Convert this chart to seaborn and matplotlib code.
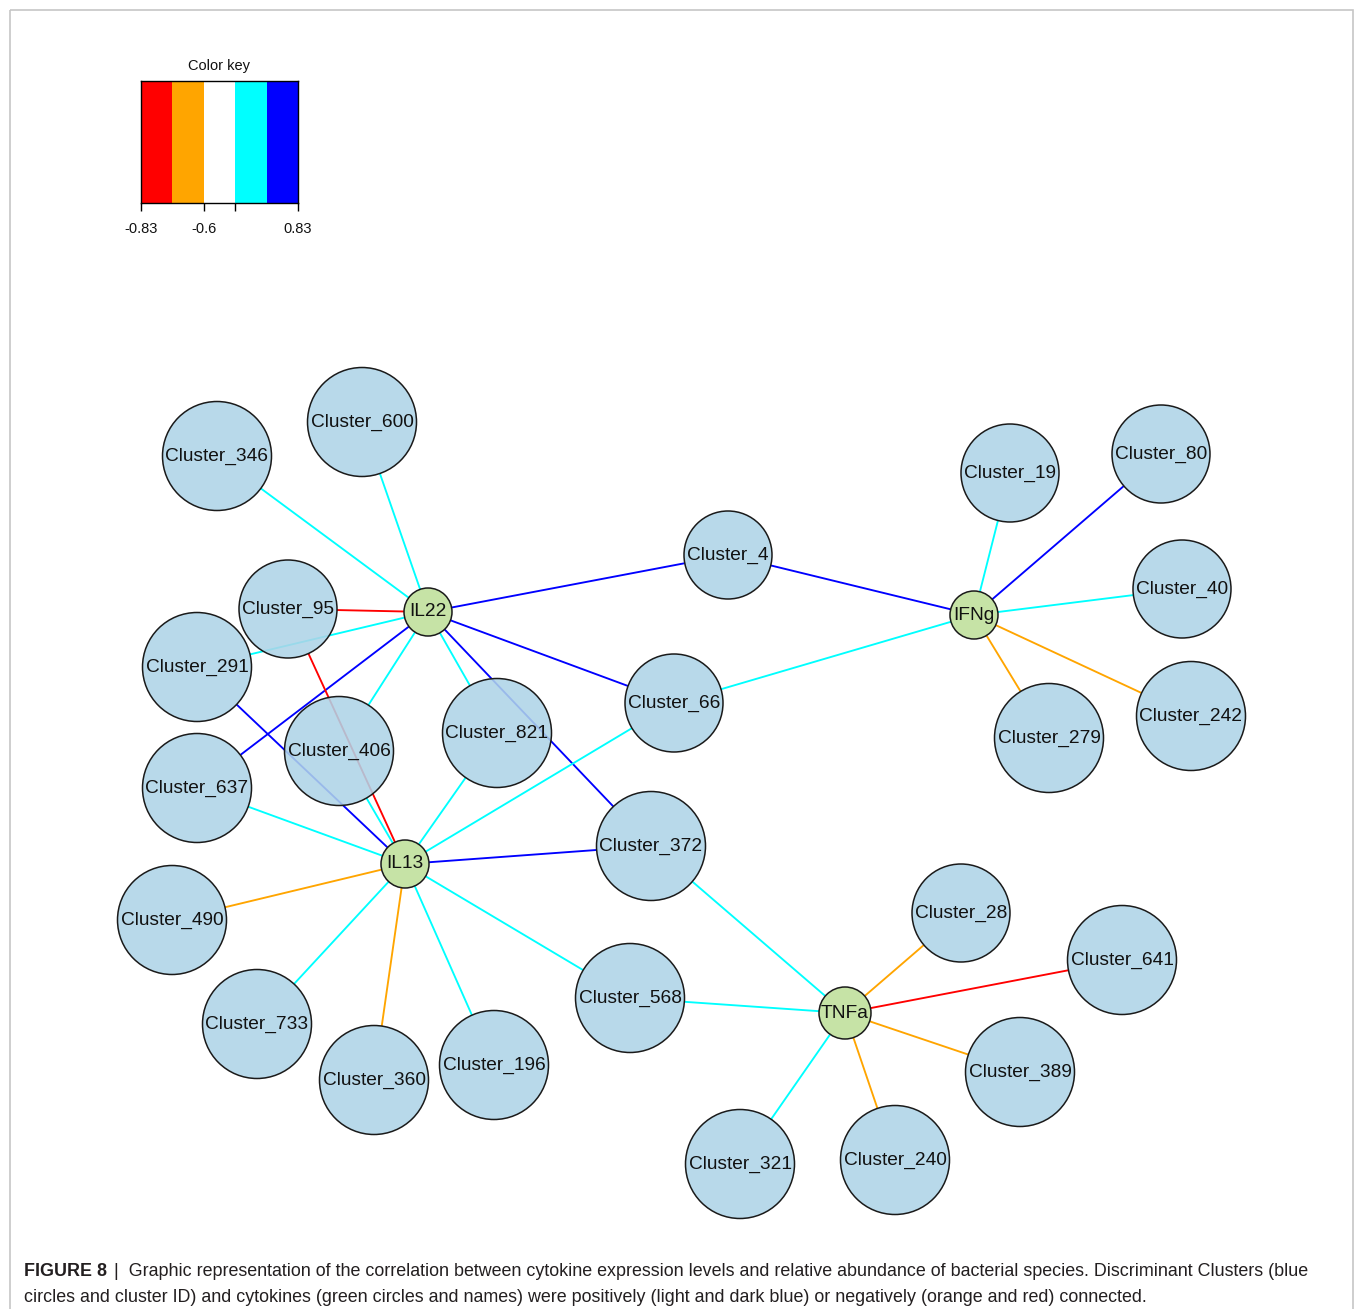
import numpy as np
import matplotlib
matplotlib.use("Agg")
import matplotlib.pyplot as plt
from matplotlib.patches import Circle, Rectangle
from matplotlib.colors import ListedColormap
import seaborn as sns

sns.set_theme(style="white")
plt.rcParams["font.family"] = ["Liberation Sans", "DejaVu Sans"]

# ---- network data ---------------------------------------------------------
cytokines = ["IL22", "IL13", "IFNg", "TNFa"]
clusters = ["Cluster_600", "Cluster_346", "Cluster_95", "Cluster_291", "Cluster_406",
            "Cluster_637", "Cluster_821", "Cluster_4", "Cluster_66", "Cluster_372",
            "Cluster_19", "Cluster_80", "Cluster_40", "Cluster_242", "Cluster_279",
            "Cluster_490", "Cluster_733", "Cluster_360", "Cluster_196", "Cluster_568",
            "Cluster_28", "Cluster_641", "Cluster_389", "Cluster_240", "Cluster_321"]

# correlation edges: source, target, Spearman rho
edge_source = (["IL22"] * 10 + ["IL13"] * 12 + ["IFNg"] * 7 + ["TNFa"] * 7)
edge_target = ["Cluster_346", "Cluster_600", "Cluster_95", "Cluster_291", "Cluster_637",
               "Cluster_406", "Cluster_821", "Cluster_4", "Cluster_66", "Cluster_372",
               "Cluster_95", "Cluster_291", "Cluster_406", "Cluster_637", "Cluster_490",
               "Cluster_733", "Cluster_360", "Cluster_196", "Cluster_568", "Cluster_372",
               "Cluster_821", "Cluster_66",
               "Cluster_4", "Cluster_66", "Cluster_19", "Cluster_80", "Cluster_40",
               "Cluster_242", "Cluster_279",
               "Cluster_372", "Cluster_568", "Cluster_28", "Cluster_641", "Cluster_389",
               "Cluster_240", "Cluster_321"]
edge_rho = [0.65, 0.65, -0.77, 0.65, 0.76, 0.65, 0.65, 0.76, 0.76, 0.76,
            -0.77, 0.76, 0.65, 0.65, -0.65, 0.65, -0.65, 0.65, 0.65, 0.76, 0.65, 0.65,
            0.76, 0.65, 0.65, 0.76, 0.65, -0.65, -0.65,
            0.65, 0.65, -0.65, -0.77, -0.65, -0.65, 0.65]

# colour key
key_breaks = [-0.83, -0.7, -0.6, 0.6, 0.7, 0.83]
key_colors = ["#FF0000", "#FFA500", "#FFFFFF", "#00FFFF", "#0000FF"]
key_tick_pos = [0, 2, 3, 5]
key_tick_labels = ["-0.83", "-0.6", "", "0.83"]

# ---- layout (canvas pixels) -----------------------------------------------
layout = {
    "IL22": (428, 612), "IL13": (405, 864), "IFNg": (974, 615), "TNFa": (845, 1013),
    "Cluster_600": (362, 422), "Cluster_346": (217, 456), "Cluster_95": (288, 609),
    "Cluster_291": (197, 667), "Cluster_406": (339, 751), "Cluster_637": (197, 788),
    "Cluster_821": (497, 733), "Cluster_4": (728, 555), "Cluster_66": (674, 703),
    "Cluster_372": (651, 846), "Cluster_19": (1010, 473), "Cluster_80": (1161, 454),
    "Cluster_40": (1182, 589), "Cluster_242": (1191, 716), "Cluster_279": (1049, 738),
    "Cluster_490": (172, 920), "Cluster_733": (257, 1024), "Cluster_360": (374, 1080),
    "Cluster_196": (494, 1065), "Cluster_568": (630, 998), "Cluster_28": (961, 913),
    "Cluster_641": (1122, 960), "Cluster_389": (1020, 1072), "Cluster_240": (895, 1160),
    "Cluster_321": (740, 1164),
}


def node_radius(name):
    if name in cytokines:
        return 26 if name == "TNFa" else 24
    n = len(name)
    return {9: 44, 10: 49}.get(n, 54.5)


W, H = 1355, 1309
fig = plt.figure(figsize=(W / 100, H / 100), dpi=100)
ax = fig.add_axes([0, 0, 1, 1])
ax.set_xlim(0, W)
ax.set_ylim(H, 0)
ax.axis("off")

# page frame
ax.add_patch(Rectangle((9.5, 9.5), 1343, 1310, fill=False, edgecolor="#c6c6c6", lw=1.2))

cmap = ListedColormap(key_colors)
bin_idx = np.clip(np.digitize(edge_rho, key_breaks[1:-1]), 0, len(key_colors) - 1)

# edges, clipped at node borders
for s, t, b in zip(edge_source, edge_target, bin_idx):
    p = np.array(layout[s], float)
    q = np.array(layout[t], float)
    u = (q - p) / np.linalg.norm(q - p)
    a = p + u * node_radius(s)
    c = q - u * node_radius(t)
    ax.plot([a[0], c[0]], [a[1], c[1]], color=key_colors[b], lw=1.35,
            solid_capstyle="butt", zorder=1)

# nodes
for name, (x, y) in layout.items():
    fc = "#BEE09A" if name in cytokines else "#AFD4E8"
    ax.add_patch(Circle((x, y), node_radius(name), facecolor=fc, edgecolor="none",
                        alpha=0.88, zorder=2))
    ax.add_patch(Circle((x, y), node_radius(name), facecolor="none", edgecolor="#1a1a1a",
                        lw=1.1, zorder=3))
    ax.text(x, y, name, ha="center", va="center", fontsize=13.8, color="#111111",
            zorder=4)

# colour key
kax = fig.add_axes([141 / W, 1 - 203 / H, 157 / W, 122 / H])
sns.heatmap(np.arange(len(key_colors)).reshape(1, -1), cmap=cmap, cbar=False,
            ax=kax, xticklabels=False, yticklabels=False)
kax.set_xticks(key_tick_pos)
kax.set_xticklabels(key_tick_labels, fontsize=10.5)
kax.tick_params(axis="x", bottom=True, length=6, width=1, color="black", pad=8,
                labelcolor="#111111")
kax.set_yticks([])
for sp in kax.spines.values():
    sp.set_visible(True)
    sp.set_color("black")
    sp.set_linewidth(1.0)
kax.set_title("Color key", fontsize=10.5, pad=8, color="#111111")

# caption
cap_font = ["Liberation Sans", "DejaVu Sans"]
cap_size = 12.85
t1 = ax.text(24, 1272, "FIGURE 8", fontsize=cap_size, fontweight="bold",
             family=cap_font, va="center", ha="left", color="#231f20")
fig.canvas.draw()
bb = t1.get_window_extent()
x_after = bb.x1 + 2
ax.text(x_after, 1272, " |  Graphic representation of the correlation between cytokine "
        "expression levels and relative abundance of bacterial species. Discriminant Clusters (blue",
        fontsize=cap_size, family=cap_font, va="center", ha="left", color="#231f20")
ax.text(24, 1297, "circles and cluster ID) and cytokines (green circles and names) were positively "
        "(light and dark blue) or negatively (orange and red) connected.",
        fontsize=cap_size, family=cap_font, va="center", ha="left", color="#231f20")

fig.savefig("out.png", dpi=100)
